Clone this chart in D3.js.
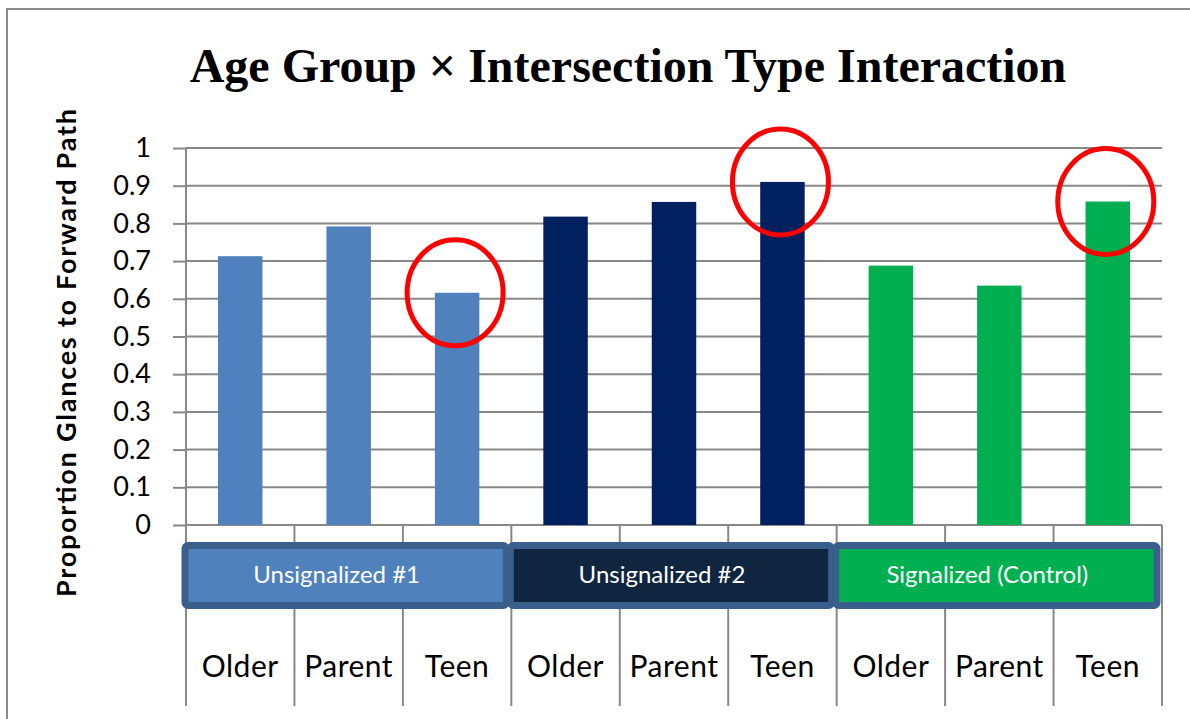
<!DOCTYPE html>
<html>
<head>
<meta charset="utf-8">
<script src="https://cdn.jsdelivr.net/npm/d3@7"></script>
<style>
  html, body { margin: 0; padding: 0; background: #fff; }
  svg { display: block; }
</style>
</head>
<body>
<div id="chart"></div>
<script>
// chart data
const groups = ["Unsignalized #1", "Unsignalized #2", "Signalized (Control)"];
const ages = ["Older", "Parent", "Teen"];
const unsig1 = [0.713, 0.792, 0.616];
const unsig2 = [0.818, 0.857, 0.910];
const signalized = [0.688, 0.635, 0.858];
const yTicks = [0, 0.1, 0.2, 0.3, 0.4, 0.5, 0.6, 0.7, 0.8, 0.9, 1];
// bars circled in red on the original slide
const circled = ["Unsignalized #1|Teen", "Unsignalized #2|Teen", "Signalized (Control)|Teen"];

const groupColors = ["#4f81bd", "#002060", "#00b050"];
const boxFills = ["#4f81bd", "#10253f", "#00b050"];

const width = 1190, height = 719;
const margin = { top: 148, right: 28, bottom: 194, left: 186 };

const rows = [];
[unsig1, unsig2, signalized].forEach((vals, gi) => {
  vals.forEach((v, ai) => {
    rows.push({ group: groups[gi], age: ages[ai], gi: gi, value: v, key: groups[gi] + "|" + ages[ai] });
  });
});

const svg = d3.select("#chart").append("svg")
  .attr("width", width)
  .attr("height", height);

// outer frame
svg.append("rect")
  .attr("x", 7).attr("y", 9)
  .attr("width", width + 20).attr("height", height + 20)
  .attr("fill", "none")
  .attr("stroke", "#8c8c8c")
  .attr("stroke-width", 2);

const x = d3.scaleBand()
  .domain(rows.map(d => d.key))
  .range([margin.left, width - margin.right]);

const y = d3.scaleLinear()
  .domain([0, 1])
  .range([height - margin.bottom, margin.top]);

const y0 = y(0);

// title
svg.append("text")
  .attr("x", 628)
  .attr("y", 82)
  .attr("text-anchor", "middle")
  .attr("font-family", "'Liberation Serif', 'Times New Roman', serif")
  .attr("font-weight", "bold")
  .attr("font-size", 48)
  .text("Age Group \u00d7 Intersection Type Interaction");

// gridlines + y axis
const yAxis = svg.append("g")
  .attr("transform", `translate(${margin.left},0)`)
  .call(d3.axisLeft(y).tickValues(yTicks).tickFormat(d3.format("")).tickSize(13).tickPadding(22))
  .call(g => g.select(".domain").remove());

yAxis.selectAll(".tick line")
  .attr("stroke", "#888")
  .attr("stroke-width", 2);
yAxis.selectAll(".tick text")
  .attr("font-family", "Lato, 'Open Sans', sans-serif")
  .attr("font-size", 27)
  .attr("fill", "#000");

svg.append("g")
  .selectAll("line")
  .data(yTicks)
  .join("line")
  .attr("x1", margin.left)
  .attr("x2", width - margin.right)
  .attr("y1", d => y(d))
  .attr("y2", d => y(d))
  .attr("stroke", "#888")
  .attr("stroke-width", 2);

// category divider lines
const edges = x.domain().map(k => x(k)).concat([width - margin.right]);
svg.append("g")
  .selectAll("line")
  .data(edges)
  .join("line")
  .attr("x1", d => d)
  .attr("x2", d => d)
  .attr("y1", (d, i) => i === 0 ? margin.top : y0)
  .attr("y2", 706)
  .attr("stroke", "#888")
  .attr("stroke-width", 2);

// bars
const barW = x.bandwidth() * 0.41;
svg.append("g")
  .selectAll("rect")
  .data(rows)
  .join("rect")
  .attr("x", d => x(d.key) + (x.bandwidth() - barW) / 2)
  .attr("y", d => y(d.value))
  .attr("width", barW)
  .attr("height", d => y0 - y(d.value))
  .attr("fill", d => groupColors[d.gi]);

// group label boxes
const step = x.step();
const boxes = svg.append("g")
  .selectAll("g")
  .data(groups)
  .join("g");

boxes.append("rect")
  .attr("x", (d, i) => x(d + "|" + ages[0]) - 1)
  .attr("y", 545.5)
  .attr("width", step * 3 - 4)
  .attr("height", 60)
  .attr("rx", 3)
  .attr("fill", (d, i) => boxFills[i])
  .attr("stroke", "#3a5f8d")
  .attr("stroke-width", 7);

boxes.append("text")
  .attr("x", (d, i) => x(d + "|" + ages[1]) + step / 2 - 12)
  .attr("y", 583)
  .attr("text-anchor", "middle")
  .attr("font-family", "Lato, 'Open Sans', sans-serif")
  .attr("font-size", 24)
  .attr("fill", "#fff")
  .text(d => d);

// age labels
svg.append("g")
  .selectAll("text")
  .data(rows)
  .join("text")
  .attr("x", d => x(d.key) + x.bandwidth() / 2)
  .attr("y", 677)
  .attr("text-anchor", "middle")
  .attr("font-family", "Lato, 'Open Sans', sans-serif")
  .attr("font-size", 30)
  .attr("letter-spacing", 0.5)
  .attr("fill", "#000")
  .text(d => d.age);

// y axis title
svg.append("text")
  .attr("transform", `translate(76,353) rotate(-90)`)
  .attr("text-anchor", "middle")
  .attr("font-family", "Lato, 'Open Sans', sans-serif")
  .attr("font-weight", "bold")
  .attr("font-size", 27)
  .attr("textLength", 488)
  .attr("lengthAdjust", "spacing")
  .attr("fill", "#000")
  .text("Proportion Glances to Forward Path");

// red circles
svg.append("g")
  .selectAll("ellipse")
  .data(rows.filter(d => circled.includes(d.key)))
  .join("ellipse")
  .attr("cx", d => x(d.key) + x.bandwidth() / 2 - 2)
  .attr("cy", d => y(d.value))
  .attr("rx", 48)
  .attr("ry", 53)
  .attr("fill", "none")
  .attr("stroke", "#ff0000")
  .attr("stroke-width", 5);
</script>
</body>
</html>
